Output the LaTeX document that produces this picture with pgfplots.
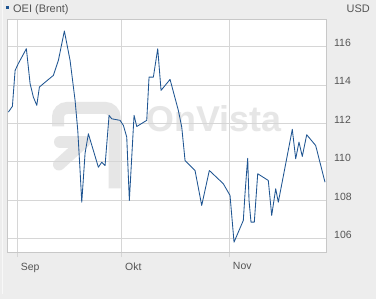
\documentclass[border=0pt]{standalone}
\usepackage{pgfplots}
\pgfplotsset{compat=1.18}
\usepackage{fontspec}
\setmainfont{Liberation Sans}
\definecolor{bg}{HTML}{EDEDED}
\definecolor{txt}{HTML}{555555}
\definecolor{gridc}{HTML}{D6D6D6}
\definecolor{framec}{HTML}{C8C8C8}
\definecolor{linec}{HTML}{1F5592}
\definecolor{wm}{HTML}{E6E6E6}
\begin{document}
\begin{tikzpicture}[x=1bp,y=1bp]
\fill[bg] (0,0) rectangle (376,298);
\draw[white!60!bg, line width=1bp] (2.5,4.5) -- (2.5,298);
\fill[white] (7,46) rectangle (326,279);
% watermark
\begin{scope}
\draw[wm, line width=12bp, rounded corners=9bp] (58,172) -- (58,190.5) -- (114.5,190.5) -- (114.5,110);
\draw[wm, line width=12bp, line cap=round] (60,156.5) -- (84,156.5);
\draw[wm, line width=12bp, line cap=round] (59,134) -- (84,156.5);
\node[wm, anchor=west, inner sep=0pt, font=\fontsize{36}{36}\selectfont\bfseries] at (146,180) {OnVista};
\end{scope}
\begin{axis}[
  at={(7bp,46bp)}, anchor=south west,
  scale only axis, width=319bp, height=233bp,
  xmin=-2.9, xmax=88.8, ymin=105.27, ymax=117.4,
  axis line style={framec},
  xtick={0,30,61}, xticklabels={Sep,Okt,Nov},
  ytick={106,108,110,112,114,116},
  grid=major, major grid style={gridc, line width=0.6bp},
  tick align=outside, major tick length=5bp,
  xtick style={gridc, line width=0.6bp},
  ytick style={draw=none},
  xtick pos=bottom,
  yticklabel pos=right,
  /pgf/number format/assume math mode=true,
  tick label style={txt, font=\fontsize{10.5}{12}\selectfont, inner sep=0pt},
  xticklabel style={anchor=north west, xshift=3.5bp, yshift=-5bp},
  yticklabel style={anchor=base west, xshift=3bp},
  clip=true,
]
\addplot[linec, line width=0.85bp, line join=round] table {
x y
-2.5 112.58
-1.35 112.88
-0.57 114.75
0.37 115.11
2.67 115.88
3.74 114.06
4.68 113.36
5.66 112.93
6.41 113.88
7.56 114.06
10.43 114.49
11.87 115.27
13.59 116.80
15.23 115.27
16.67 113.19
17.44 111.63
18.10 109.54
18.59 107.89
19.54 110.43
20.49 111.45
21.93 110.58
23.36 109.71
24.34 109.97
25.29 109.80
26.44 112.41
27.21 112.23
29.60 112.15
30.55 111.89
31.52 111.28
32.27 107.98
33.62 112.41
34.40 111.83
37.27 112.15
37.93 114.40
39.17 114.40
40.43 115.88
41.38 113.71
43.97 114.28
46.35 112.67
47.33 111.80
48.28 110.06
51.15 109.54
53.07 107.72
55.26 109.54
59.28 108.85
61.21 108.24
62.36 105.81
65.03 106.94
65.52 108.34
66.01 109.54
66.29 110.17
66.67 107.98
67.24 106.85
68.19 106.85
69.17 109.37
72.21 109.02
73.19 107.20
74.34 108.59
75.09 107.89
79.11 111.68
80.09 110.15
81.03 111.02
81.98 110.27
83.25 111.40
85.83 110.84
88.51 108.93
};
\end{axis}
\fill[linec] (6,289.3) rectangle (9,292.3);
\node[txt, anchor=base west, inner sep=0pt, font=\fontsize{11}{12}\selectfont] at (13,286.3) {OEI (Brent)};
\node[txt, anchor=base east, inner sep=0pt, font=\fontsize{11}{12}\selectfont] at (370,286.3) {USD};
\end{tikzpicture}
\end{document}
